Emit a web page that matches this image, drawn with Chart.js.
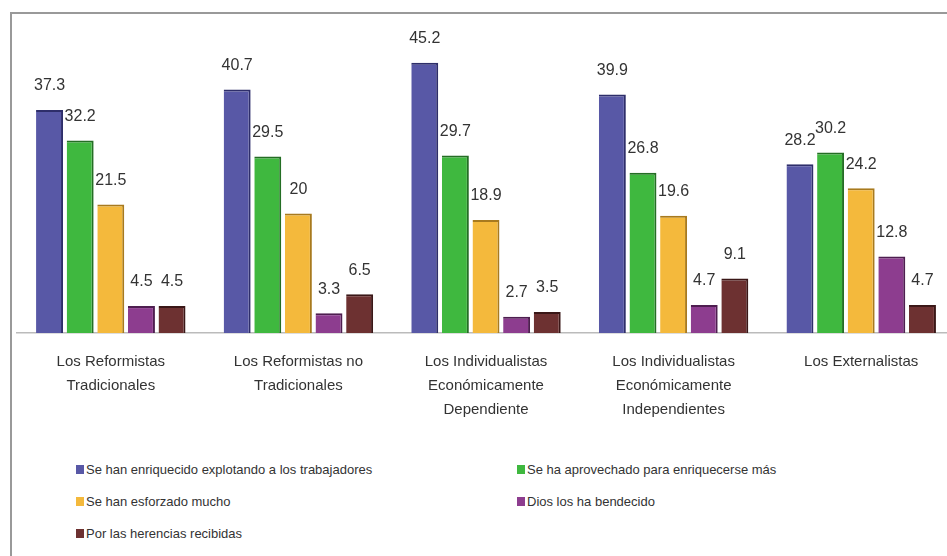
<!DOCTYPE html>
<html>
<head>
<meta charset="utf-8">
<script src="https://cdn.jsdelivr.net/npm/chart.js@4.4.1/dist/chart.umd.min.js"></script>
<style>
  html, body { margin: 0; padding: 0; background: #fff; overflow: hidden; }
  .wrap { position: relative; width: 947px; height: 556px; overflow: hidden; font-family: "Liberation Sans", Arial, sans-serif; }
  .frame { position: absolute; left: 10px; top: 12px; width: 960px; height: 560px; border: 2px solid #999; box-sizing: border-box; }
  .chart-box { position: absolute; left: 0; top: 0; width: 960px; height: 430px; }
  .legend { position: absolute; left: 76px; top: 459px; margin: 0; padding: 0; list-style: none;
            display: grid; grid-template-columns: 441px 400px; row-gap: 11px; font-size: 13px; color: #333; }
  .legend li { display: flex; align-items: center; height: 21px; }
  .legend .indicator { width: 8px; height: 9px; margin-right: 2px; display: inline-block; }
</style>
</head>
<body>
<div class="wrap">
  <div class="frame"></div>
  <div class="chart-box"><canvas class="my-chart" width="960" height="430"></canvas></div>
  <ul class="legend"></ul>
</div>
<script>
const categories = [
    ["Los Reformistas", "Tradicionales"],
    ["Los Reformistas no", "Tradicionales"],
    ["Los Individualistas", "Económicamente", "Dependiente"],
    ["Los Individualistas", "Económicamente", "Independientes"],
    ["Los Externalistas"],
];
const seriesNames = [
    "Se han enriquecido explotando a los trabajadores",
    "Se ha aprovechado para enriquecerse más",
    "Se han esforzado mucho",
    "Dios los ha bendecido",
    "Por las herencias recibidas",
];
const explotando = [37.3, 40.7, 45.2, 39.9, 28.2];
const aprovechado = [32.2, 29.5, 29.7, 26.8, 30.2];
const esforzado = [21.5, 20, 18.9, 19.6, 24.2];
const bendecido = [4.5, 3.3, 2.7, 4.7, 12.8];
const herencias = [4.5, 6.5, 3.5, 9.1, 4.7];
const seriesValues = [explotando, aprovechado, esforzado, bendecido, herencias];
const colors = ['#5858a6', '#3fb83f', '#f4b93c', '#8d3d8f', '#6d3131'];
const edges = ['#2e2e6a', '#246e24', '#a87a1e', '#4e1e50', '#3a1717'];

const myChart = document.querySelector(".my-chart");
const ul = document.querySelector(".legend");

// numbers above each bar
const valueLabels = {
    id: "valueLabels",
    afterDatasetsDraw(chart) {
        const ctx = chart.ctx;
        ctx.save();
        ctx.font = "16px 'Liberation Sans', Arial, sans-serif";
        ctx.fillStyle = "#333";
        ctx.textAlign = "center";
        ctx.textBaseline = "middle";
        chart.data.datasets.forEach((ds, i) => {
            chart.getDatasetMeta(i).data.forEach((bar, j) => {
                ctx.fillText(String(ds.data[j]), bar.x, bar.y - 24);
            });
        });
        ctx.restore();
    },
};

new Chart(myChart, {
    type: "bar",
    data: {
        labels: categories,
        datasets: seriesValues.map((vals, i) => ({
            label: seriesNames[i],
            data: vals,
            backgroundColor: colors[i],
            borderColor: edges[i],
            borderWidth: { top: 2, right: 2, left: 0, bottom: 0 },
            borderSkipped: false,
            categoryPercentage: 0.816,
            barPercentage: 0.88,
        })),
    },
    options: {
        responsive: false,
        animation: false,
        layout: { padding: { left: 17, right: 5, top: 34, bottom: 0 } },
        plugins: {
            legend: { display: false },
            tooltip: { enabled: false },
        },
        scales: {
            y: {
                display: false,
                min: 0,
                max: 50,
            },
            x: {
                grid: { display: false },
                border: { display: true, color: '#bbb', width: 1.5 },
                ticks: {
                    color: '#333',
                    padding: 9,
                    maxRotation: 0,
                    autoSkip: false,
                    font: { family: "'Liberation Sans', Arial, sans-serif", size: 15, lineHeight: 1.6 },
                },
                afterFit(scale) { scale.height = 97; },
            },
        },
    },
    plugins: [valueLabels],
});

const populateUl = () => {
    seriesNames.forEach((l, i) => {
        let li = document.createElement("li");
        li.innerHTML = `<span class='indicator' style="background-color: ${colors[i]}"></span>${l}`;
        ul.appendChild(li);
    });
};

populateUl();
</script>
</body>
</html>
